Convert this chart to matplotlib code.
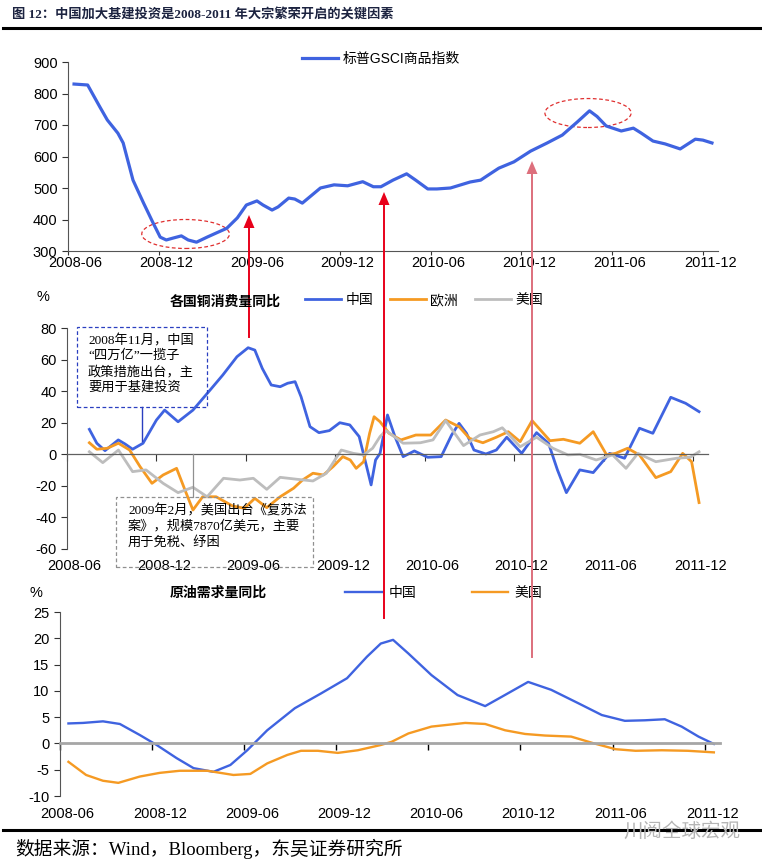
import matplotlib
matplotlib.use('Agg')
import matplotlib.pyplot as plt
from matplotlib.patches import Ellipse, Rectangle
from matplotlib.lines import Line2D

plt.rcParams['font.family'] = ['Liberation Sans', 'Noto Sans CJK SC']
plt.rcParams['axes.unicode_minus'] = False
SERIF = ['Liberation Serif', 'Noto Sans CJK SC']

# x values are months counted from 2008-06
tick_months = [0, 6, 12, 18, 24, 30, 36, 42]
tick_labels = ['2008-06', '2008-12', '2009-06', '2009-12',
               '2010-06', '2010-12', '2011-06', '2011-12']

# S&P GSCI commodity index
gsci_month = [0.4, 1.3, 2.1, 2.6, 3.3, 3.65, 4.3, 5.0, 5.6, 6.1, 6.5, 6.95, 7.5, 7.95,
              8.5, 9.2, 9.8, 10.5, 11.2, 11.8, 12.5, 12.9, 13.5, 13.9, 14.6, 15.0, 15.5,
              16.0, 16.7, 17.6, 18.5, 19.5, 20.2, 20.7, 21.5, 22.4, 23.0, 23.8, 24.4,
              25.3, 26.6, 27.3, 27.8, 28.5, 29.5, 30.6, 31.7, 32.7, 33.7, 34.5, 35.0,
              35.6, 36.6, 37.4, 37.9, 38.7, 39.5, 40.5, 41.5, 42.0, 42.6]
gsci_value = [830, 827, 758, 716, 674, 643, 525, 452, 392, 344, 335, 341, 348, 335,
              328, 344, 357, 372, 405, 446, 459, 446, 430, 440, 468, 465, 452,
              472, 500, 510, 507, 520, 504, 504, 525, 545, 525, 497, 497,
              500, 519, 525, 541, 563, 583, 617, 643, 668, 710, 745, 727,
              697, 681, 690, 675, 649, 640, 624, 655, 652, 643]

# copper consumption yoy (%)
cu_cn_month = [1.5, 2.0, 2.55, 3.44, 3.9, 4.4, 5.1, 6.0, 6.55, 7.45, 8.45, 9.6, 10.45,
               11.4, 12.15, 12.6, 13.1, 13.7, 14.3, 14.8, 15.3, 15.7, 16.3, 16.9, 17.6,
               18.3, 18.97, 19.6, 20.1, 20.4, 20.7, 21.0, 21.5, 22.0, 22.55, 23.3, 24.2,
               25.1, 25.8, 26.3, 26.8, 27.3, 28.1, 28.8, 29.5, 30.5, 31.5, 32.3, 32.9,
               33.5, 34.4, 35.3, 36.4, 37.4, 38.4, 39.3, 40.5, 41.5, 42.4]
cu_cn_value = [15.8, 7.0, 2.3, 9.1, 6.5, 3.2, 7.0, 21.7, 28.0, 20.6, 28.0, 40.7, 50.2,
               61.8, 67.5, 66.0, 54.4, 43.9, 42.8, 45.0, 46.0, 36.5, 17.5, 13.7, 15.0,
               20.0, 18.6, 11.2, -7.8, -19.4, -3.6, 0.6, 24.9, 11.2, -1.5, 2.1, -1.9,
               -1.5, 12.2, 19.6, 13.3, 2.7, 0.2, 2.7, 10.8, 0.6, 13.7, 7.0, -9.9,
               -24.3, -9.9, -11.6, 0.6, -2.5, 16.5, 13.3, 36.1, 32.3, 27.0]

cu_eu_month = [1.5, 2.0, 2.7, 3.45, 4.2, 4.9, 5.7, 6.45, 7.35, 8.0, 8.45, 9.1, 10.0,
               11.1, 11.9, 12.6, 13.4, 14.3, 15.2, 15.8, 16.5, 17.2, 17.85, 18.5, 19.0,
               19.4, 19.9, 20.3, 20.6, 21.0, 21.6, 22.4, 23.4, 24.4, 25.4, 26.3, 27.0,
               27.9, 28.8, 29.6, 30.4, 31.2, 32.4, 33.3, 34.4, 35.3, 36.2, 36.8, 37.6,
               38.4, 39.5, 40.5, 41.3, 41.9, 42.4]
cu_eu_value = [7.3, 3.2, 3.8, 7.0, 2.7, -7.8, -18.4, -13.1, -8.9, -24.7, -35.3, -26.9,
               -26.9, -32.7, -34.2, -27.9, -33.8, -26.9, -21.5, -16.3, -12.0, -13.1, -7.8,
               -1.5, -3.6, -8.9, -4.7, 13.3, 23.8, 20.6, 13.3, 9.1, 12.2, 12.2, 21.7,
               17.5, 10.1, 7.3, 10.8, 14.3, 8.0, 21.3, 8.6, 9.5, 7.0, 14.3, -0.4, 0.6,
               3.8, -0.4, -14.8, -11.0, 0.6, -4.7, -30.6]

cu_us_month = [1.5, 2.4, 3.45, 4.4, 5.3, 6.45, 7.45, 8.45, 9.4, 10.5, 11.6, 12.5, 13.4,
               14.3, 15.4, 16.5, 17.4, 18.4, 19.2, 19.9, 20.5, 21.0, 21.4, 22.55, 23.7,
               24.55, 25.4, 26.6, 27.7, 28.6, 29.2, 30.4, 31.5, 32.6, 33.6, 34.4, 35.5,
               36.6, 37.5, 38.3, 39.5, 40.9, 41.8, 42.4]
cu_us_value = [1.6, -5.3, 2.7, -11.0, -9.9, -18.4, -24.3, -20.9, -26.9, -15.2, -16.3,
               -15.2, -22.2, -14.6, -15.8, -16.9, -12.0, 2.7, 0.6, -0.4, 3.8, 11.2, 15.0,
               7.0, 7.3, 9.1, 21.3, 5.5, 12.2, 14.3, 16.8, 4.8, 10.8, 3.8, -0.4, 0.0,
               -3.6, -0.4, -8.9, 0.6, -4.7, -2.5, -1.9, 1.6]

# crude oil demand yoy (%)
oil_cn_month = [0.55, 1.5, 2.8, 3.9, 5.2, 6.3, 7.6, 8.7, 10.0, 11.1, 12.2, 13.5, 15.3,
                17.0, 18.7, 20.0, 20.9, 21.7, 22.7, 24.2, 25.9, 27.7, 28.8, 30.5, 32.0,
                33.8, 35.3, 36.8, 38.1, 39.4, 40.5, 41.6, 42.6]
oil_cn_value = [3.8, 3.9, 4.2, 3.7, 1.6, -0.3, -2.8, -4.7, -5.4, -4.1, -1.3, 2.5, 6.7,
                9.5, 12.4, 16.5, 19.0, 19.7, 17.1, 13.0, 9.2, 7.1, 8.9, 11.7, 10.2,
                7.6, 5.4, 4.3, 4.4, 4.6, 3.2, 1.3, -0.1]
oil_us_month = [0.55, 1.7, 2.8, 3.8, 5.2, 6.5, 7.8, 9.6, 11.3, 12.4, 13.5, 14.8, 15.7,
                16.8, 18.1, 19.4, 20.9, 21.6, 22.7, 24.2, 26.4, 27.7, 29.0, 30.3, 31.6,
                33.3, 34.8, 36.2, 37.5, 39.2, 40.9, 42.6]
oil_us_value = [-3.5, -6.0, -7.1, -7.5, -6.3, -5.6, -5.2, -5.2, -6.0, -5.8, -3.8, -2.2,
                -1.4, -1.4, -1.8, -1.3, -0.3, 0.3, 1.9, 3.2, 3.9, 3.7, 2.5, 1.8, 1.5,
                1.3, 0.0, -1.1, -1.4, -1.3, -1.4, -1.7]

BLUE = '#3f63e0'
ORANGE = '#f59a23'
GRAY = '#bdbdbd'
W, H = 762, 867

fig = plt.figure(figsize=(W / 100, H / 100), dpi=100)


def fx(px):
    return px / W


def fy(py):
    return 1 - py / H


def setup_x(ax, pad, ticklen=5):
    ax.set_xlim(0, 43)
    ax.set_xticks(tick_months)
    ax.set_xticklabels([])
    ax.tick_params(axis='x', direction='out', length=ticklen, color='#333333')
    sec = ax.secondary_xaxis('bottom')
    sec.set_xticks([m + 0.5 for m in tick_months], labels=tick_labels)
    sec.tick_params(length=0, labelsize=10.5, pad=pad)
    sec.spines['bottom'].set_visible(False)
    for s in ['top', 'right']:
        ax.spines[s].set_visible(False)
    ax.spines['left'].set_color('#555555')
    ax.tick_params(axis='y', direction='out', length=4, labelsize=10.5, color='#333333')


def callout(x0, y0, x1, y1, color, lines, tx, ty):
    fig.add_artist(Rectangle((fx(x0), fy(y1)), fx(x1 - x0), (y1 - y0) / H, fill=False,
                             ec=color, ls=(0, (3, 2)), lw=0.9,
                             transform=fig.transFigure, zorder=5))
    fig.text(fx(tx), fy(ty), lines, family=SERIF, fontsize=9.5, ha='left', va='top',
             linespacing=1.3, zorder=6)


# ---------- panel 1 ----------
ax1 = fig.add_axes([fx(68), fy(251), fx(650), 189 / H])
ax1.plot(gsci_month, gsci_value, color=BLUE, lw=2.3, label='标普GSCI商品指数',
         solid_joinstyle='round')
ax1.set_ylim(300, 900)
ax1.set_yticks(range(300, 901, 100))
setup_x(ax1, 3.5, ticklen=3)
ax1.spines['bottom'].set_color('#555555')
ax1.add_patch(Ellipse((7.78, 354), 5.8, 92, fill=False, ec='#e03030', ls=(0, (3, 2)), lw=0.9))
ax1.add_patch(Ellipse((34.4, 738), 5.7, 92, fill=False, ec='#e03030', ls=(0, (3, 2)), lw=0.9))
ax1.legend(loc='center', bbox_to_anchor=(fx(381), fy(59)), bbox_transform=fig.transFigure,
           frameon=False, fontsize=10, handlelength=2.6, handletextpad=0.3)

# ---------- panel 2 ----------
ax2 = fig.add_axes([fx(67), fy(549), fx(641), 221 / H])
ax2.plot(cu_cn_month, cu_cn_value, color=BLUE, lw=2.0, label='中国', solid_joinstyle='round')
ax2.plot(cu_eu_month, cu_eu_value, color=ORANGE, lw=2.0, label='欧洲', solid_joinstyle='round')
ax2.plot(cu_us_month, cu_us_value, color=GRAY, lw=2.0, label='美国', solid_joinstyle='round')
ax2.set_ylim(-60, 80)
ax2.set_yticks(range(-60, 81, 20))
setup_x(ax2, 7)
ax2.spines['bottom'].set_position(('data', 0))
ax2.spines['bottom'].set_color('#606060')
ax2.spines['bottom'].set_linewidth(0.9)
ax2.legend(loc='center', bbox_to_anchor=(fx(424), fy(300)), bbox_transform=fig.transFigure,
           ncol=3, frameon=False, fontsize=10, handlelength=2.6, handletextpad=0.3,
           columnspacing=1.2)
fig.text(fx(43), fy(297), '%', fontsize=10.5, ha='center', va='center')
fig.text(fx(225), fy(302), '各国铜消费量同比', fontsize=10, ha='center', va='center',
         fontweight='bold')

# callout boxes with leader lines
fig.add_artist(Line2D([fx(142), fx(142)], [fy(407), fy(441)], color='#2a3fc0', lw=1.0,
                      transform=fig.transFigure))
callout(77, 327, 207, 407, '#2a3fc0',
        '2008年11月，中国\n“四万亿”一揽子\n政策措施出台，主\n要用于基建投资', 88, 334)
fig.add_artist(Line2D([fx(193), fx(193)], [fy(454), fy(497)], color='#909090', lw=0.9,
                      transform=fig.transFigure))
callout(116, 497, 313, 567, '#909090',
        '2009年2月，美国出台《复苏法\n案》，规模7870亿美元，主要\n用于免税、纾困', 128, 504)

# ---------- panel 3 ----------
ax3 = fig.add_axes([fx(60), fy(796), fx(660), 184 / H])
ax3.plot(oil_cn_month, oil_cn_value, color=BLUE, lw=1.7, label='中国', solid_joinstyle='round')
ax3.plot(oil_us_month, oil_us_value, color=ORANGE, lw=1.7, label='美国', solid_joinstyle='round')
ax3.set_ylim(-10, 25)
ax3.set_yticks(range(-10, 26, 5))
setup_x(ax3, 8)
ax3.spines['bottom'].set_position(('data', 0))
ax3.spines['bottom'].set_color('#a6a6a6')
ax3.spines['bottom'].set_linewidth(2)
ax3.tick_params(axis='x', color='black', width=1)
ax3.legend(loc='center', bbox_to_anchor=(fx(444), fy(593)), bbox_transform=fig.transFigure,
           ncol=2, frameon=False, fontsize=10, handlelength=2.6, handletextpad=0.5,
           columnspacing=4.0)
fig.text(fx(36), fy(593), '%', fontsize=10.5, ha='center', va='center')
fig.text(fx(218), fy(593), '原油需求量同比', fontsize=10, ha='center', va='center',
         fontweight='bold')

# ---------- red arrows across panels ----------
for xp, y_tip, y_tail, col in [(249, 215, 337, '#e8001a'), (384, 192, 618, '#e8001a'),
                               (532, 161, 657, '#dd6f7c')]:
    fig.add_artist(Line2D([fx(xp), fx(xp)], [fy(y_tail), fy(y_tip + 10)], color=col, lw=1.4,
                          transform=fig.transFigure))
    fig.patches.append(plt.Polygon([[fx(xp), fy(y_tip)], [fx(xp - 5.5), fy(y_tip + 13)],
                                    [fx(xp + 5.5), fy(y_tip + 13)]], closed=True, fc=col,
                                   ec='none', transform=fig.transFigure, figure=fig))

# ---------- title / footer ----------
fig.text(fx(12), fy(14), '图 12：中国加大基建投资是2008-2011 年大宗繁荣开启的关键因素',
         family=SERIF, fontsize=9.5, fontweight='bold', color='#1c2340', va='center')
fig.add_artist(Line2D([fx(3), fx(760)], [fy(28), fy(28)], color='black', lw=2.2,
                      transform=fig.transFigure))
fig.add_artist(Line2D([fx(3), fx(760)], [fy(830), fy(830)], color='black', lw=2.2,
                      transform=fig.transFigure))
fig.text(fx(15), fy(849), '数据来源：Wind，Bloomberg，东吴证券研究所', family=SERIF,
         fontsize=13.5, va='center')
fig.text(fx(740), fy(832), '川阅全球宏观', fontsize=14, color='#b5b5b5', ha='right',
         va='center')

fig.savefig('out.png', dpi=100)
